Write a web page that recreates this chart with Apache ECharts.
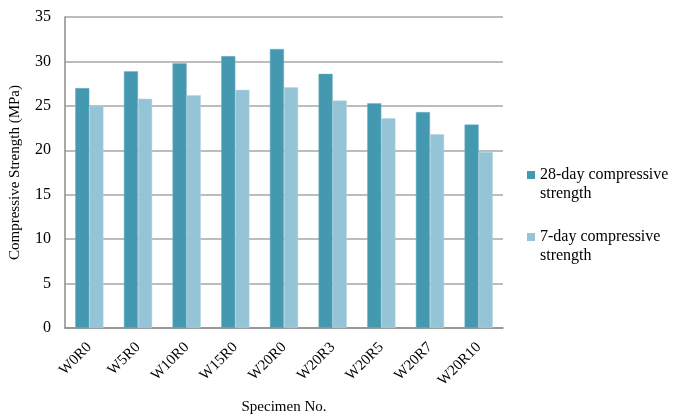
<!DOCTYPE html>
<html><head><meta charset="utf-8">
<script src="https://cdn.jsdelivr.net/npm/echarts@6/dist/echarts.min.js"></script>
<style>html,body{margin:0;padding:0;background:#fff}#c{width:685px;height:420px}</style>
</head><body><div id="c"></div>
<script>
var categories = ['W0R0','W5R0','W10R0','W15R0','W20R0','W20R3','W20R5','W20R7','W20R10'];
var strength28 = [27.0, 28.9, 29.8, 30.6, 31.4, 28.6, 25.3, 24.3, 22.9];
var strength7 = [25.0, 25.8, 26.2, 26.8, 27.1, 25.6, 23.6, 21.8, 19.8];
var seriesNames = ['28-day compressive\nstrength', '7-day compressive\nstrength'];
var yTicks = {min: 0, max: 35, interval: 5};

var font = 'Liberation Serif, Times New Roman, serif';
var chart = echarts.init(document.getElementById('c'));
chart.setOption({
  animation: false,
  textStyle: {fontFamily: font},
  grid: {left: 63, right: 182, top: 17, bottom: 89, containLabel: false},
  legend: {
    orient: 'vertical', left: 522, top: 160, itemGap: 24,
    itemWidth: 8, itemHeight: 26,
    icon: 'path://M0,0L8,0L8,8L0,8Z M0,26L8,26',
    itemStyle: {borderWidth: 0},
    textStyle: {fontFamily: font, fontSize: 16, color: '#000', lineHeight: 19},
    data: seriesNames
  },
  xAxis: {
    type: 'category', data: categories,
    name: 'Specimen No.', nameLocation: 'middle', nameGap: 72,
    nameTextStyle: {fontFamily: font, fontSize: 15, color: '#000'},
    axisLine: {lineStyle: {color: '#8c8c8c', width: 1.5}},
    axisTick: {show: false},
    axisLabel: {rotate: 45, fontFamily: font, fontSize: 15, color: '#000', margin: 17, interval: 0}
  },
  yAxis: {
    type: 'value', min: yTicks.min, max: yTicks.max, interval: yTicks.interval,
    name: 'Compressive Strength (MPa)', nameLocation: 'middle', nameGap: 42,
    nameTextStyle: {fontFamily: font, fontSize: 15, color: '#000'},
    axisLine: {show: true, lineStyle: {color: '#8c8c8c', width: 1.5}},
    axisTick: {show: false},
    axisLabel: {fontFamily: font, fontSize: 16, color: '#000', margin: 14},
    splitLine: {lineStyle: {color: '#a6a6a6', width: 1.5}}
  },
  series: [
    {name: seriesNames[0], type: 'bar', data: strength28, barGap: '0%', barCategoryGap: '42%',
     itemStyle: {color: '#4499b0', borderColor: '#6fb1c4', borderWidth: 0.5}},
    {name: seriesNames[1], type: 'bar', data: strength7,
     itemStyle: {color: '#94c4d6', borderColor: '#b5d7e4', borderWidth: 0.5}}
  ]
});
</script></body></html>
